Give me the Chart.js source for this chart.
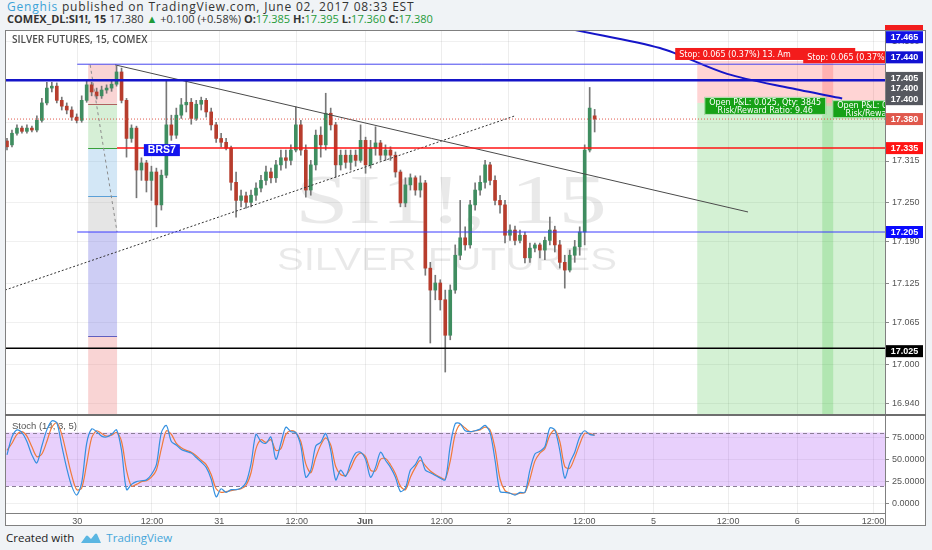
<!DOCTYPE html>
<html>
<head>
<meta charset="utf-8">
<script src="https://cdn.jsdelivr.net/npm/chart.js@4.4.0/dist/chart.umd.min.js"></script>
<style>
  html, body { margin: 0; padding: 0; }
  body { width: 932px; height: 550px; background: #f0f3f6; position: relative; overflow: hidden; font-family: 'Open Sans', sans-serif; color: #333; }
  .hdr { position: absolute; left: 7px; line-height: 14px; white-space: nowrap; }
  #hdr1 { top: 0px; font-size: 12px; letter-spacing: 0.8px; }
  #hdr2 { top: 12px; font-size: 11px; }
  .user { color: #3ca3d8; }
  .g { color: #1f9b3a; }
  #wrap { position: absolute; left: 5px; top: 30px; width: 921px; height: 496px; background: #fff; }
  #topTag { position: absolute; left: 885px; top: 25px; width: 38px; height: 5px; background: #f21d1d; }
  #footer { position: absolute; left: 6px; top: 530px; font-size: 11.5px; line-height: 16px; white-space: nowrap; color: #222; }
  #footer svg { vertical-align: -2px; margin: 0 4px 0 6px; }
  #footer .tv { color: #45a6da; }
</style>
</head>
<body>
<div id="hdr1" class="hdr"><span class="user">Genghis</span> published on TradingView.com, June 02, 2017 08:33 EST</div>
<div id="hdr2" class="hdr"></div>
<div id="topTag"></div>
<div id="wrap"><canvas id="chart" width="921" height="496"></canvas></div>
<div id="footer">Created with<svg width="22" height="12" viewBox="0 0 22 12"><path d="M1 11 L6 4 Q7 3 8 4 L11 7 L15 2 Q16 1 17 2 L21 11 Z" fill="#5ab6e2"/></svg><span class="tv">TradingView</span></div>

<script>
// SI1! 15 min candles (left to right)
const opens = [
  17.346, 17.340, 17.358, 17.366, 17.361, 17.366, 17.363, 17.378, 17.405, 17.428,
  17.431, 17.409, 17.400, 17.394, 17.383, 17.378, 17.409, 17.433, 17.422, 17.416,
  17.425, 17.428, 17.434, 17.453, 17.409, 17.350, 17.366, 17.301, 17.312, 17.285,
  17.298, 17.247, 17.293, 17.371, 17.355, 17.386, 17.402, 17.406, 17.381, 17.403,
  17.409, 17.391, 17.371, 17.350, 17.344, 17.335, 17.282, 17.254, 17.261, 17.251,
  17.262, 17.273, 17.285, 17.298, 17.289, 17.309, 17.320, 17.316, 17.332, 17.371,
  17.332, 17.270, 17.309, 17.355, 17.340, 17.389, 17.371, 17.309, 17.324, 17.313,
  17.324, 17.316, 17.347, 17.309, 17.335, 17.343, 17.324, 17.332, 17.324, 17.298,
  17.250, 17.278, 17.289, 17.270, 17.281, 17.149, 17.115, 17.126, 17.100, 17.045,
  17.115, 17.169, 17.196, 17.185, 17.247, 17.270, 17.282, 17.309, 17.285, 17.254,
  17.247, 17.200, 17.208, 17.192, 17.200, 17.165, 17.180, 17.185, 17.177, 17.192,
  17.208, 17.185, 17.158, 17.146, 17.169, 17.182, 17.205, 17.332, 17.385
];
const highs = [
  17.350, 17.363, 17.371, 17.369, 17.371, 17.369, 17.385, 17.412, 17.437, 17.437,
  17.436, 17.414, 17.405, 17.399, 17.388, 17.416, 17.440, 17.437, 17.428, 17.431,
  17.433, 17.440, 17.462, 17.459, 17.412, 17.371, 17.369, 17.320, 17.316, 17.307,
  17.304, 17.301, 17.440, 17.386, 17.397, 17.412, 17.440, 17.412, 17.409, 17.414,
  17.412, 17.397, 17.375, 17.358, 17.350, 17.338, 17.298, 17.270, 17.267, 17.270,
  17.281, 17.293, 17.307, 17.304, 17.316, 17.332, 17.332, 17.340, 17.399, 17.378,
  17.340, 17.316, 17.363, 17.368, 17.420, 17.397, 17.375, 17.332, 17.332, 17.332,
  17.332, 17.371, 17.352, 17.347, 17.368, 17.347, 17.340, 17.337, 17.329, 17.301,
  17.289, 17.295, 17.292, 17.292, 17.285, 17.158, 17.138, 17.131, 17.115, 17.123,
  17.185, 17.254, 17.213, 17.254, 17.281, 17.292, 17.316, 17.313, 17.292, 17.262,
  17.254, 17.216, 17.214, 17.208, 17.205, 17.188, 17.188, 17.188, 17.197, 17.228,
  17.214, 17.192, 17.169, 17.177, 17.192, 17.213, 17.340, 17.429, 17.395
];
const lows = [
  17.332, 17.337, 17.355, 17.358, 17.358, 17.360, 17.360, 17.375, 17.402, 17.422,
  17.405, 17.394, 17.388, 17.378, 17.374, 17.375, 17.406, 17.416, 17.411, 17.412,
  17.420, 17.423, 17.431, 17.405, 17.321, 17.344, 17.258, 17.285, 17.267, 17.254,
  17.213, 17.239, 17.289, 17.347, 17.350, 17.381, 17.391, 17.372, 17.378, 17.394,
  17.383, 17.363, 17.344, 17.337, 17.332, 17.270, 17.228, 17.244, 17.242, 17.244,
  17.254, 17.267, 17.278, 17.281, 17.282, 17.301, 17.304, 17.309, 17.329, 17.324,
  17.259, 17.262, 17.301, 17.321, 17.332, 17.363, 17.290, 17.301, 17.304, 17.301,
  17.307, 17.313, 17.296, 17.304, 17.324, 17.316, 17.316, 17.316, 17.290, 17.244,
  17.244, 17.270, 17.262, 17.259, 17.138, 17.033, 17.100, 17.084, 16.988, 17.038,
  17.110, 17.162, 17.177, 17.180, 17.239, 17.262, 17.273, 17.278, 17.247, 17.234,
  17.188, 17.192, 17.185, 17.188, 17.157, 17.158, 17.174, 17.165, 17.162, 17.185,
  17.174, 17.149, 17.118, 17.143, 17.158, 17.169, 17.185, 17.329, 17.360
];
const closes = [
  17.337, 17.358, 17.366, 17.361, 17.366, 17.363, 17.378, 17.405, 17.428, 17.431,
  17.409, 17.400, 17.394, 17.383, 17.378, 17.409, 17.433, 17.422, 17.416, 17.425,
  17.428, 17.434, 17.453, 17.409, 17.350, 17.366, 17.301, 17.312, 17.285, 17.298,
  17.247, 17.293, 17.371, 17.355, 17.386, 17.402, 17.406, 17.381, 17.403, 17.409,
  17.391, 17.371, 17.350, 17.344, 17.335, 17.282, 17.254, 17.261, 17.251, 17.262,
  17.273, 17.285, 17.298, 17.289, 17.309, 17.320, 17.316, 17.332, 17.371, 17.332,
  17.270, 17.309, 17.355, 17.340, 17.389, 17.371, 17.309, 17.324, 17.313, 17.324,
  17.316, 17.347, 17.309, 17.335, 17.343, 17.324, 17.332, 17.324, 17.298, 17.250,
  17.278, 17.289, 17.270, 17.281, 17.149, 17.115, 17.126, 17.100, 17.045, 17.115,
  17.169, 17.196, 17.185, 17.247, 17.270, 17.282, 17.309, 17.285, 17.254, 17.247,
  17.200, 17.208, 17.192, 17.200, 17.165, 17.180, 17.185, 17.177, 17.192, 17.208,
  17.185, 17.158, 17.146, 17.169, 17.182, 17.205, 17.332, 17.397, 17.380
];

// Stoch (14, 3, 5) %K and %D
const stochK = [
  55, 75, 83, 80, 70, 55, 46, 65, 83, 93, 91, 65, 40, 20, 10, 24, 68, 84, 81, 76,
  75, 78, 83, 60, 16, 22, 25, 26, 27, 33, 44, 80, 88, 70, 66, 61, 59, 57, 52, 47,
  41, 28, 8, 17, 13, 16, 16, 18, 24, 45, 78, 70, 68, 75, 50, 68, 86, 81, 80, 65,
  30, 38, 65, 69, 79, 60, 27, 38, 31, 46, 57, 58, 50, 30, 41, 58, 49, 41, 30, 14,
  18, 38, 44, 53, 38, 35, 32, 29, 27, 65, 90, 90, 82, 81, 82, 84, 88, 80, 49, 14,
  13, 12, 10, 13, 13, 38, 56, 59, 64, 85, 83, 60, 29, 46, 58, 75, 82, 78, 77
];
const stochD = [
  60, 68, 78, 81, 76, 64, 53, 56, 70, 86, 91, 78, 55, 32, 16, 18, 45, 74, 82, 79,
  76, 77, 80, 70, 38, 20, 22, 25, 26, 30, 38, 62, 82, 78, 68, 63, 60, 58, 54, 49,
  44, 33, 17, 13, 14, 15, 16, 17, 21, 35, 62, 72, 69, 72, 60, 62, 78, 82, 80, 70,
  45, 35, 52, 66, 74, 66, 42, 33, 32, 40, 52, 57, 53, 38, 37, 50, 51, 44, 34, 20,
  16, 30, 41, 49, 43, 37, 33, 30, 28, 48, 78, 89, 85, 81, 82, 83, 86, 83, 62, 28,
  15, 12, 11, 12, 13, 28, 48, 57, 62, 77, 83, 70, 42, 40, 52, 67, 79, 79, 77
];

// axes
const xMin = -0.4, xMax = 176.3;
const xTickIdx = [14.1, 29.1, 42.6, 58.2, 71.9, 87.3, 100.8, 115.9, 129.8, 144.8, 158.7, 173.9];
const xTickLabels = ['30', '12:00', '31', '12:00', 'Jun', '12:00', '2', '12:00', '5', '12:00', '6', '12:00'];
const priceTicks = [17.500, 17.440, 17.375, 17.315, 17.250, 17.190, 17.125, 17.065, 17.000, 16.940];
const stochTicks = [0, 25, 50, 75];

// drawings
const hLinePrices = [17.465, 17.440, 17.380, 17.335, 17.205, 17.025];
const hLineStarts = [14.1, xMin, xMin, 22.1, 14.1, xMin];
const fibPrices = [17.465, 17.404, 17.335, 17.261, 17.205, 17.044, 16.785];
const fibSpan = [16.3, 22.1];
const fibDiag = [[16.7, 17.464], [22.1, 17.205]];
const trendTop = [[21.7, 17.464], [148.8, 17.236]];
const trendDotted = [[-0.4, 17.115], [102.0, 17.385]];
const blueArc = [[107.0, 17.530], [114.1, 17.518], [131.1, 17.490], [144.6, 17.450], [157.2, 17.428], [167.7, 17.412]];
const posSpans = [[138.6, 165.9], [163.7, 192.2]];
const posEntry = [17.405, 17.400];
const posStop = [17.470, 17.465];
const posTarget = [16.790, 16.785];
const brsAt = [31.1, 17.335];
const tagPrices = [17.465, 17.440, 17.405, 17.400, 17.400, 17.380, 17.335, 17.205, 17.025];

// header quote from the last candle
const n = closes.length - 1;
document.getElementById('hdr2').innerHTML =
  '<b>COMEX_DL:SI1!, 15</b> ' + closes[n].toFixed(3) + ' <span class="g">&#9650;</span> +0.100 (+0.58%) ' +
  '<b>O:</b><span class="g">' + opens[n].toFixed(3) + '</span> ' +
  '<b>H:</b><span class="g">' + highs[n].toFixed(3) + '</span> ' +
  '<b>L:</b><span class="g">' + lows[n].toFixed(3) + '</span> ' +
  '<b>C:</b><span class="g">' + closes[n].toFixed(3) + '</span>';

const px = (s, v) => s.getPixelForValue(v);

function fitText(ctx, text, cx, base, width, font) {
  ctx.font = font;
  const w = ctx.measureText(text).width;
  ctx.save();
  ctx.translate(cx, base);
  ctx.scale(width / w, 1);
  ctx.textAlign = 'center';
  ctx.textBaseline = 'alphabetic';
  ctx.fillText(text, 0, 0);
  ctx.restore();
}

function lineSet(pts, color, width, dash, extra) {
  return Object.assign({
    type: 'line',
    data: pts.map(p => ({ x: p[0], y: p[1] })),
    borderColor: color,
    borderWidth: width,
    borderDash: dash || [],
    pointRadius: 0,
    fill: false,
    tension: 0,
    yAxisID: 'y',
    order: 2
  }, extra || {});
}

const fibFills = ['rgba(235,100,100,0.28)', 'rgba(90,190,90,0.25)', 'rgba(80,160,220,0.25)',
                  'rgba(150,150,150,0.25)', 'rgba(90,90,220,0.30)', 'rgba(235,100,100,0.28)'];
const fibLines = [null, '#b06060', '#3aa03a', '#5aa0d8', null, '#5f5fc0'];
const tagColors = ['#1212e6', '#1212d2', '#55585f', '#55585f', '#55585f', '#e0584c', '#ff1414', '#0a0aff', '#000000'];
const tagNudge = [-27, -23, -25, -18, -7, 0, 0, 0, 3];

const overlay = {
  id: 'overlay',
  beforeDatasetsDraw(chart) {
    const { ctx, chartArea: ca } = chart;
    const { x, y, y2 } = chart.scales;
    ctx.save();
    ctx.beginPath();
    ctx.rect(ca.left, y.top, ca.right - ca.left, y.bottom - y.top);
    ctx.clip();

    // symbol watermark
    ctx.fillStyle = 'rgba(0,0,0,0.085)';
    const cx = (ca.left + ca.right) / 2 + 6;
    const h = y.bottom - y.top;
    fitText(ctx, 'SI1!, 15', cx, y.top + h * 0.503, 312, '70px "Liberation Serif"');
    fitText(ctx, 'SILVER FUTURES', cx - 4, y.top + h * 0.625, 340, '32px "Liberation Sans"');

    // fib retracement zones
    const fx0 = px(x, fibSpan[0]), fx1 = px(x, fibSpan[1]);
    for (let i = 0; i < fibPrices.length - 1; i++) {
      const a = px(y, fibPrices[i]), b = px(y, fibPrices[i + 1]);
      ctx.fillStyle = fibFills[i];
      ctx.fillRect(fx0, a, fx1 - fx0, b - a);
    }
    fibPrices.forEach((p, i) => {
      if (!fibLines[i]) return;
      const yy = Math.round(px(y, p)) + 0.5;
      ctx.strokeStyle = fibLines[i];
      ctx.lineWidth = 1;
      ctx.beginPath(); ctx.moveTo(fx0, yy); ctx.lineTo(fx1, yy); ctx.stroke();
    });

    // short position tools
    posSpans.forEach((s, i) => {
      const l = px(x, s[0]), r = px(x, s[1]);
      const e = px(y, posEntry[i]), st = px(y, posStop[i]), tg = px(y, posTarget[i]);
      ctx.fillStyle = 'rgba(255,0,0,0.17)';
      ctx.fillRect(l, st, r - l, e - st);
      ctx.fillStyle = 'rgba(0,170,0,0.17)';
      ctx.fillRect(l, e, r - l, tg - e);
    });
    ctx.restore();

    // stoch band
    const b80 = px(y2, 80), b20 = px(y2, 20);
    ctx.save();
    ctx.fillStyle = 'rgba(150,40,240,0.22)';
    ctx.fillRect(ca.left, b80, ca.right - ca.left, b20 - b80);
    ctx.strokeStyle = '#8a7d95';
    ctx.lineWidth = 1;
    ctx.setLineDash([4, 3]);
    [b80, b20].forEach(v => {
      const yy = Math.round(v) + 0.5;
      ctx.beginPath(); ctx.moveTo(ca.left, yy); ctx.lineTo(ca.right, yy); ctx.stroke();
    });
    ctx.setLineDash([]);

    // pane titles
    ctx.fillStyle = '#4d4d4d';
    ctx.font = '600 10px "Open Sans"';
    ctx.textBaseline = 'middle';
    ctx.textAlign = 'left';
    ctx.fillText('SILVER FUTURES, 15, COMEX', ca.left + 7, y.top + 10);
    ctx.fillStyle = '#555';
    ctx.font = '9.5px "Liberation Sans"';
    ctx.fillText('Stoch (14, 3, 5)', ca.left + 7, y2.top + 12);
    ctx.restore();
  },
  afterDatasetsDraw(chart) {
    const { ctx, chartArea: ca } = chart;
    const { x, y } = chart.scales;

    ctx.save();
    ctx.beginPath();
    ctx.rect(ca.left, y.top, ca.right - ca.left, y.bottom - y.top);
    ctx.clip();

    // BRS7 label
    const bx = px(x, brsAt[0]), by = px(y, brsAt[1]) + 2;
    ctx.font = 'bold 10.5px "Liberation Sans"';
    const bw = ctx.measureText('BRS7').width + 8;
    ctx.fillStyle = '#1414ee';
    ctx.fillRect(bx - bw / 2, by - 6, bw, 12);
    ctx.fillStyle = '#fff';
    ctx.textAlign = 'center';
    ctx.textBaseline = 'middle';
    ctx.fillText('BRS7', bx, by + 0.5);

    // position tool labels
    ctx.font = '8px "DejaVu Sans"';
    posSpans.forEach((s, i) => {
      const l = px(x, s[0]), r = px(x, s[1]), c = (l + r) / 2;
      const st = px(y, posStop[i]);
      ctx.fillStyle = '#f31c1c';
      ctx.fillRect(c - 90, st - 13, 180, 12);
      ctx.fillStyle = '#fff';
      ctx.textAlign = 'left';
      ctx.fillText('Stop: 0.065 (0.37%) 13. Am', c - 86, st - 6.5);
    });
    posSpans.forEach((s, i) => {
      const l = px(x, s[0]), r = px(x, s[1]), c = (l + r) / 2;
      const e = px(y, posEntry[i]) + 3;
      const t1 = 'Open P&L: 0.025, Qty: 3845', t2 = 'Risk/Reward Ratio: 9.46';
      const w = ctx.measureText(t1).width + 10;
      ctx.fillStyle = '#17a117';
      ctx.fillRect(c - w / 2, e - 9, w, 18);
      ctx.strokeStyle = 'rgba(255,255,255,0.7)';
      ctx.strokeRect(c - w / 2 + 0.5, e - 8.5, w - 1, 17);
      ctx.fillStyle = '#fff';
      ctx.textAlign = 'center';
      ctx.fillText(t1, c, e - 3.5);
      ctx.fillText(t2, c, e + 4.5);
    });
    ctx.restore();

    // frame and pane separators
    ctx.save();
    ctx.strokeStyle = '#808080';
    ctx.lineWidth = 1;
    ctx.strokeRect(0.5, 0.5, chart.width - 1, chart.height - 1);
    ctx.beginPath();
    ctx.moveTo(Math.round(ca.right) + 0.5, 0); ctx.lineTo(Math.round(ca.right) + 0.5, chart.height);
    ctx.moveTo(0, Math.round(ca.bottom) + 0.5); ctx.lineTo(ca.right, Math.round(ca.bottom) + 0.5);
    ctx.stroke();
    ctx.strokeStyle = '#6e6e6e';
    ctx.lineWidth = 2;
    ctx.beginPath();
    ctx.moveTo(0, y.bottom + 1); ctx.lineTo(chart.width, y.bottom + 1);
    ctx.stroke();

    // price tags on the axis
    ctx.font = 'bold 9px "Liberation Sans"';
    ctx.textAlign = 'center';
    ctx.textBaseline = 'middle';
    tagPrices.forEach((p, i) => {
      const yy = px(y, p) + tagNudge[i];
      ctx.fillStyle = tagColors[i];
      ctx.fillRect(ca.right + 1, yy - 6, 37, 12);
      ctx.fillStyle = '#fff';
      ctx.fillText(p.toFixed(3), ca.right + 19.5, yy + 0.5);
    });
    ctx.restore();
  }
};

const isUp = closes.map((c, i) => c >= opens[i]);
const axisFont = { family: 'Liberation Sans', size: 9 };
const noPadV = s => { s.width = 41; s.paddingTop = 0; s.paddingBottom = 0; };

const datasets = [
  // trend lines and levels
  ...hLinePrices.map((p, i) => lineSet([[hLineStarts[i], p], [xMax, p]],
    ['#4646ee', '#1515c8', '#e0584c', '#ff1414', '#3a3aff', '#000000'][i],
    [1, 2.5, 1, 1.5, 1, 1.5][i],
    [[], [], [1, 2], [], [], []][i])),
  lineSet(trendTop, '#4a4a4a', 1),
  lineSet(trendDotted, '#333', 1, [2, 2]),
  lineSet(fibDiag, '#8c8c8c', 1, [3, 3]),
  lineSet(blueArc, '#1515c8', 2, [], { tension: 0.3 }),
  // candles
  {
    type: 'bar',
    data: opens.map((o, i) => ({ x: i, y: [o, closes[i]] })),
    backgroundColor: isUp.map(u => u ? '#3f8d60' : '#b73d2d'),
    borderWidth: 0,
    barThickness: 3,
    minBarLength: 1,
    grouped: false,
    yAxisID: 'y',
    order: 10
  },
  {
    type: 'bar',
    data: lows.map((l, i) => ({ x: i, y: [l, highs[i]] })),
    backgroundColor: '#777',
    borderWidth: 0,
    barThickness: 1,
    grouped: false,
    yAxisID: 'y',
    order: 11
  },
  // stochastic
  {
    type: 'line',
    data: stochK.map((v, i) => ({ x: i, y: v })),
    borderColor: '#3490e0', borderWidth: 1.2, pointRadius: 0, tension: 0.3, fill: false,
    yAxisID: 'y2', order: 3
  },
  {
    type: 'line',
    data: stochD.map((v, i) => ({ x: i, y: v })),
    borderColor: '#f07a3a', borderWidth: 1.2, pointRadius: 0, tension: 0.3, fill: false,
    yAxisID: 'y2', order: 4
  }
];

const chart = new Chart(document.getElementById('chart').getContext('2d'), {
  type: 'bar',
  data: { datasets },
  options: {
    responsive: false,
    animation: false,
    events: [],
    layout: { padding: 0 },
    plugins: { legend: { display: false }, tooltip: { enabled: false } },
    scales: {
      x: {
        type: 'linear', min: xMin, max: xMax, offset: false,
        grid: { color: 'rgba(0,0,0,0.07)', drawTicks: false, offset: false },
        border: { display: false },
        afterBuildTicks: s => { s.ticks = xTickIdx.map(v => ({ value: v })); },
        afterFit: s => { s.height = 13; s.paddingLeft = 0; s.paddingRight = 0; },
        ticks: {
          autoSkip: false, maxRotation: 0, padding: 3, color: '#555',
          font: c => ({ family: 'Liberation Sans', size: 9, weight: xTickLabels[c.index] === 'Jun' ? 'bold' : 'normal' }),
          callback: (v, i) => xTickLabels[i]
        }
      },
      y: {
        type: 'linear', position: 'right', stack: 'panes', stackWeight: 384,
        min: 16.923, max: 17.518,
        grid: { color: 'rgba(0,0,0,0.06)', tickLength: 4, tickColor: '#888' },
        border: { display: false },
        afterBuildTicks: s => { s.ticks = priceTicks.map(v => ({ value: v })); },
        afterFit: noPadV,
        ticks: { autoSkip: false, padding: 3, color: '#555', font: axisFont, callback: v => v.toFixed(3) }
      },
      y2: {
        type: 'linear', position: 'right', stack: 'panes', stackWeight: 99,
        min: -10.1, max: 100.8,
        grid: { color: 'rgba(0,0,0,0.06)', tickLength: 4, tickColor: '#888' },
        border: { display: false },
        afterBuildTicks: s => { s.ticks = stochTicks.map(v => ({ value: v })); },
        afterFit: noPadV,
        ticks: { autoSkip: false, padding: 3, color: '#555', font: axisFont, callback: v => v.toFixed(4) }
      }
    }
  },
  plugins: [overlay]
});
</script>
</body>
</html>
